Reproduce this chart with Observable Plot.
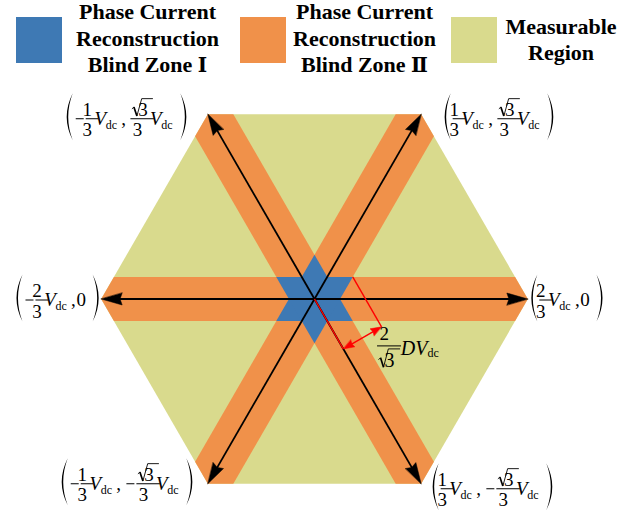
<!DOCTYPE html>
<html><head><meta charset="utf-8">
<script src="https://cdn.jsdelivr.net/npm/d3@7"></script>
<script src="https://cdn.jsdelivr.net/npm/@observablehq/plot@0.6"></script>
<style>
body{margin:0;background:#fff;}
#wrap{position:relative;width:637px;height:512px;overflow:hidden;}
#legend{position:relative;width:637px;height:88px;font-family:"Liberation Serif","Times New Roman",serif;font-weight:bold;font-size:22px;color:#000;}
.sw{position:absolute;}
.lt{position:absolute;text-align:center;white-space:nowrap;}
.rn{font-family:"DejaVu Serif",serif;font-size:20px;}
#chart svg{display:block;}
</style></head><body><div id="wrap"><div id="legend"></div><div id="chart"></div></div>
<script>
// ---------- data ----------
const legendLabels = [
  ["Phase Current", "Reconstruction", "Blind Zone Ⅰ"],
  ["Phase Current", "Reconstruction", "Blind Zone Ⅱ"],
  ["Measurable", "Region"]
];
const legendColors = ["#3E79B4", "#F0914A", "#D9DA8D"];
const vertexAngles = [0, 60, 120, 180, 240, 300];       // degrees
const hexRadius = 2 / 3;                                 // in Vdc
const bandHalfWidth = 0.069;                             // in Vdc
// coordinates printed at each vertex: [x part, y part]; [num, den] fractions, "0" plain
const vertexLabels = [
  [["2", "3"], "0"],
  [["1", "3"], ["√3", "3"]],
  [["-1", "3"], ["√3", "3"]],
  [["-2", "3"], "0"],
  [["-1", "3"], ["-√3", "3"]],
  [["1", "3"], ["-√3", "3"]]
];
const annotationFraction = ["2", "√3"];
const annotationAlong = 0.18;                            // length of the red guide lines (Vdc)

// ---------- geometry derived from data ----------
const s3 = Math.sqrt(3), rad = Math.PI / 180;
const R = hexRadius, w = bandHalfWidth;
const rot = ([x, y], a) => [x * Math.cos(a) - y * Math.sin(a), x * Math.sin(a) + y * Math.cos(a)];
const verts = vertexAngles.map((a, i) => ({i, a, x: R * Math.cos(a * rad), y: R * Math.sin(a * rad)}));
const hex = verts.map(v => ({x: v.x, y: v.y}));
const band0 = [[-R, 0], [-R + w / s3, w], [R - w / s3, w], [R, 0], [R - w / s3, -w], [-R + w / s3, -w]];
const bands = [0, 60, 120].flatMap((a, id) => band0.map(p => { const [x, y] = rot(p, a * rad); return {x, y, id}; }));
const tris = [90, 30].flatMap((a0, id) => [0, 120, 240].map(a => ({x: 2 * w * Math.cos((a0 + a) * rad), y: 2 * w * Math.sin((a0 + a) * rad), id})));

const PX = 320; // pixels per Vdc
const L = 21 / PX, HW = 6 / PX;
function head(tip, u, len, hw, id) {
  const n = [-u[1], u[0]];
  const b = [tip[0] - len * u[0], tip[1] - len * u[1]];
  const nb = [tip[0] - 0.9 * len * u[0], tip[1] - 0.9 * len * u[1]];
  return [
    {x: tip[0], y: tip[1], id},
    {x: b[0] + hw * n[0], y: b[1] + hw * n[1], id},
    {x: nb[0], y: nb[1], id},
    {x: b[0] - hw * n[0], y: b[1] - hw * n[1], id}
  ];
}
const axisLines = verts.map(v => { const u = [Math.cos(v.a * rad), Math.sin(v.a * rad)]; return {x1: 0, y1: 0, x2: v.x - 0.5 * L * u[0], y2: v.y - 0.5 * L * u[1]}; });
const heads = verts.flatMap(v => head([v.x, v.y], [Math.cos(v.a * rad), Math.sin(v.a * rad)], L, HW, v.i));

// red annotation (toward the 300° vertex, offset to the 30° star point)
const dir = [Math.cos(300 * rad), Math.sin(300 * rad)];
const perp = [Math.cos(30 * rad), Math.sin(30 * rad)];
const off = [2 * w * perp[0], 2 * w * perp[1]];
const A1 = [annotationAlong * dir[0], annotationAlong * dir[1]];
const A2 = [off[0] + A1[0], off[1] + A1[1]];
const redLines = [
  {x1: 0, y1: 0, x2: A1[0], y2: A1[1]},
  {x1: off[0], y1: off[1], x2: A2[0], y2: A2[1]}
];
const rL = 11 / PX, rHW = 4 / PX;
const redArrowLine = [{x1: A1[0] + 0.6 * rL * perp[0], y1: A1[1] + 0.6 * rL * perp[1], x2: A2[0] - 0.6 * rL * perp[0], y2: A2[1] - 0.6 * rL * perp[1]}];
const redHeads = [...head(A1, [-perp[0], -perp[1]], rL, rHW, 0), ...head(A2, perp, rL, rHW, 1)];

// ---------- math text layout ----------
const SERIF = "'Liberation Serif','Times New Roman',serif";
const ctx = document.createElement("canvas").getContext("2d");
function tw(s, size, style = "") { ctx.font = `${style} ${size}px ${SERIF}`; return ctx.measureText(s).width; }
const RADW = 11;
function partW(s, size) { return s.startsWith("√") ? RADW + tw(s.slice(1), size) : tw(s, size); }

function layoutMath(g, tokens, o) {
  let x = 0;
  const txt = (s, tx, ty, size, italic) => g.append("text").attr("x", tx).attr("y", ty)
    .attr("font-family", SERIF).attr("font-size", size).attr("font-style", italic ? "italic" : null)
    .attr("fill", "#000").text(s);
  const drawPart = (s, px, base, size) => {
    if (s.startsWith("√")) {
      const w3 = tw(s.slice(1), size), F = size;
      const top = base - 0.9 * F;
      g.append("path").attr("d", `M${px},${base - 0.36 * F}L${px + 2},${base - 0.46 * F}`)
        .attr("fill", "none").attr("stroke", "#000").attr("stroke-width", 0.9);
      g.append("path").attr("d", `M${px + 2},${base - 0.46 * F}L${px + 5},${base + 0.3}`)
        .attr("fill", "none").attr("stroke", "#000").attr("stroke-width", 1.7);
      g.append("path").attr("d", `M${px + 5},${base + 0.3}L${px + 9.8},${top}L${px + RADW + w3 + 0.5},${top}`)
        .attr("fill", "none").attr("stroke", "#000").attr("stroke-width", 0.9).attr("stroke-linejoin", "miter");
      txt(s.slice(1), px + RADW, base, size);
    } else txt(s, px, base, size);
  };
  for (const tk of tokens) {
    if (tk.t === "open" || tk.t === "close") {
      if (tk.t === "close") x += 1;
      const x0 = x, top = o.parenTop, bot = o.parenBot, mid = (top + bot) / 2;
      const d = tk.t === "open"
        ? `M${x0 + 7},${top}Q${x0 - 5},${mid} ${x0 + 7},${bot}Q${x0 - 2},${mid} ${x0 + 7},${top}Z`
        : `M${x0},${top}Q${x0 + 12},${mid} ${x0},${bot}Q${x0 + 9},${mid} ${x0},${top}Z`;
      g.append("path").attr("d", d).attr("fill", "#000");
      x += tk.t === "open" ? 9 : 7;
    } else if (tk.t === "minus") {
      g.append("line").attr("x1", x + 1).attr("x2", x + 9).attr("y1", 0).attr("y2", 0).attr("stroke", "#000").attr("stroke-width", 1);
      x += 11;
    } else if (tk.t === "frac") {
      const wN = partW(tk.num, o.size), wD = partW(tk.den, o.denSize);
      const bw = Math.max(wN, wD) + 3;
      g.append("line").attr("x1", x).attr("x2", x + bw).attr("y1", 0).attr("y2", 0).attr("stroke", "#000").attr("stroke-width", 1);
      drawPart(tk.num, x + bw / 2 - wN / 2, o.numBase, o.size);
      drawPart(tk.den, x + bw / 2 - wD / 2, o.denBase, o.denSize);
      x += bw + 2;
    } else if (tk.t === "txt") {
      txt(tk.s, x + 1, o.vBase, o.size);
      x += tw(tk.s, o.size) + 2;
    } else if (tk.t === "comma") {
      txt(",", x, o.vBase, o.size);
      x += tw(",", o.size) + 2;
    } else if (tk.t === "gap") {
      x += tk.w;
    } else if (tk.t === "D") {
      txt("D", x, o.vBase, o.vSize, true);
      x += tw("D", o.vSize, "italic") - 1;
    } else if (tk.t === "V") {
      txt("V", x, o.vBase, o.vSize, true);
      x += tw("V", o.vSize, "italic") - 0.5;
      txt("dc", x, o.dcBase, o.dcSize);
      x += tw("dc", o.dcSize) + 1;
    }
  }
  return x;
}
function compTokens(c) {
  if (typeof c === "string") return [{t: "txt", s: c}];
  const neg = c[0].startsWith("-");
  return [...(neg ? [{t: "minus"}] : []), {t: "frac", num: neg ? c[0].slice(1) : c[0], den: c[1]}, {t: "V"}];
}
const vertexOpts = {size: 19, denSize: 19, numBase: -3, denBase: 17.5, vBase: 6, vSize: 19, dcBase: 10, dcSize: 12, parenTop: -25.5, parenBot: 21.5};
const labelPlacement = [
  {anchor: "start", dx: 3, dy: 1.5},
  {anchor: "start", dx: 23, dy: 5},
  {anchor: "end", dx: -20, dy: 5},
  {anchor: "end", dx: -1, dy: 1.5},
  {anchor: "end", dx: -14, dy: 0.5},
  {anchor: "start", dx: 11, dy: 5.5}
];
const mathItems = verts.map((v, i) => ({
  x: v.x, y: v.y, ...labelPlacement[i], opts: vertexOpts,
  tokens: [{t: "open"}, ...compTokens(vertexLabels[i][0]), {t: "comma"}, ...compTokens(vertexLabels[i][1]), {t: "close"}]
}));
mathItems.push({
  x: A2[0], y: A2[1], anchor: "start", dx: -4, dy: 19.6,
  opts: {size: 19, denSize: 20, numBase: -6, denBase: 21, vBase: 9, vSize: 20, dcBase: 11.5, dcSize: 12},
  tokens: [{t: "frac", num: annotationFraction[0], den: annotationFraction[1]}, {t: "gap", w: 5}, {t: "D"}, {t: "V"}]
});

const W = 637, H = 424;
const xDomain = [-314 / PX, (W - 314) / PX];
const yDomain = [-(H - 210.5) / PX, 210.5 / PX];

function mathMark(items) {
  return (index, scales) => {
    const X = typeof scales?.x === "function" ? scales.x : d3.scaleLinear(xDomain, [0, W]);
    const Y = typeof scales?.y === "function" ? scales.y : d3.scaleLinear(yDomain, [H, 0]);
    const g = d3.create("svg:g");
    for (const it of items) {
      const sub = g.append("g");
      const wd = layoutMath(sub, it.tokens, it.opts);
      const px = X(it.x) + it.dx - (it.anchor === "end" ? wd : 0);
      const py = Y(it.y) + it.dy;
      sub.attr("transform", `translate(${px},${py})`);
    }
    return g.node();
  };
}

// ---------- legend ----------
const legend = d3.select("#legend");
const swatchX = [16, 240, 451];
const textCenters = [147.5, 364.5, 561];
legendLabels.forEach((lines, i) => {
  legend.append("div").attr("class", "sw")
    .style("left", swatchX[i] + "px").style("top", "17px").style("width", "46px").style("height", "46px")
    .style("background", legendColors[i]);
  const t = legend.append("div").attr("class", "lt")
    .style("left", (textCenters[i] - 110) + "px").style("width", "220px")
    .style("top", (lines.length === 3 ? -1 : 14) + "px")
    .style("line-height", (lines.length === 3 ? 26.5 : 26) + "px");
  lines.forEach(l => {
    const m = l.match(/^(.*?)([ⅠⅡ])$/);
    const line = t.append("div");
    if (m) { line.append("span").text(m[1]); line.append("span").attr("class", "rn").text(m[2]); }
    else line.text(l);
  });
});

// ---------- plot ----------
const plot = Plot.plot({
  width: W, height: H, margin: 0,
  x: {domain: xDomain, axis: null},
  y: {domain: yDomain, axis: null},
  marks: [
    Plot.line(hex, {x: "x", y: "y", fill: legendColors[2], stroke: "none", curve: "linear-closed"}),
    Plot.line(bands, {x: "x", y: "y", z: "id", fill: legendColors[1], stroke: "none", curve: "linear-closed"}),
    Plot.line(tris, {x: "x", y: "y", z: "id", fill: legendColors[0], stroke: "none", curve: "linear-closed"}),
    Plot.link(axisLines, {x1: "x1", y1: "y1", x2: "x2", y2: "y2", stroke: "#000", strokeWidth: 1.8}),
    Plot.line(heads, {x: "x", y: "y", z: "id", fill: "#000", stroke: "#000", strokeWidth: 0.5, curve: "linear-closed"}),
    Plot.link(redLines, {x1: "x1", y1: "y1", x2: "x2", y2: "y2", stroke: "#FF0000", strokeWidth: 1.4}),
    Plot.link(redArrowLine, {x1: "x1", y1: "y1", x2: "x2", y2: "y2", stroke: "#FF0000", strokeWidth: 1.4}),
    Plot.line(redHeads, {x: "x", y: "y", z: "id", fill: "#FF0000", stroke: "#FF0000", strokeWidth: 0.5, curve: "linear-closed"}),
    mathMark(mathItems)
  ]
});
document.getElementById("chart").appendChild(plot);
</script>
</body></html>
